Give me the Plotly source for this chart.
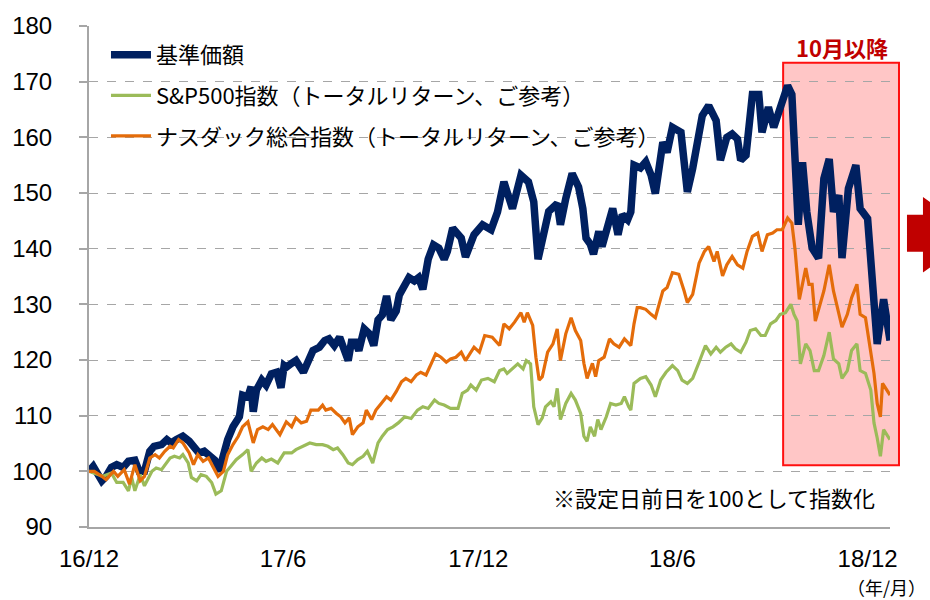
import pandas as pd
import plotly.graph_objects as go

# ---- data (days since 2016-12-01, index values) ----
start_date = "2016-12-01"

nav_days = [0, 4, 12, 16, 21, 26, 32, 37, 43, 47, 52, 57, 61, 68, 73, 77, 82, 88, 94, 99,
            103, 108, 113, 118, 122, 126, 130, 135, 141, 144, 149, 152, 154, 157, 162, 166, 171, 176, 180, 183,
            185, 190, 194, 201, 205, 210, 216, 221, 225, 230, 235, 239, 243, 246, 250, 253, 258, 263, 267, 271,
            275, 279, 283, 288, 291, 295, 300, 305, 309, 313, 318, 323, 328, 333, 336, 341, 346, 349, 353, 361,
            369, 377, 383, 389, 397, 405, 412, 417, 421, 425, 431, 439, 442, 447, 453, 459, 463, 466, 470, 473,
            478, 481, 486, 491, 496, 500, 505, 508, 511, 517, 522, 527, 531, 538, 542, 547, 555, 559, 561, 566,
            570, 575, 581, 588, 592, 598, 603, 608, 611, 616, 622, 628, 631, 637, 642, 647, 651, 655, 659, 662,
            665, 669, 673, 678, 684, 689, 694, 698, 703, 706, 712, 719, 723, 730, 734, 739, 745, 751]
nav_vals = [100.0, 100.9, 98.3, 99.1, 100.7, 101.2, 100.7, 101.8, 102.0, 100.0, 100.0, 103.6, 104.5, 104.8, 105.7, 105.1, 105.7, 106.3, 105.4, 103.9,
            103.3, 103.6, 102.7, 102.0, 100.0, 103.0, 105.7, 108.0, 109.8, 113.7, 113.4, 115.2, 110.7, 114.6, 116.4, 115.5, 117.5, 117.8, 115.0, 119.0,
            118.7, 119.4, 119.9, 117.8, 119.4, 121.7, 122.3, 123.5, 123.8, 122.6, 124.1, 121.7, 119.9, 123.2, 123.2, 121.7, 125.6, 124.7, 122.6, 127.2,
            128.1, 131.5, 127.2, 128.8, 131.7, 133.1, 134.8, 134.2, 134.8, 132.7, 138.1, 140.7, 140.1, 138.1, 139.5, 143.7, 142.8, 141.9, 138.5, 142.5,
            144.3, 143.4, 146.6, 152.0, 147.2, 153.2, 152.0, 148.4, 138.1, 141.3, 146.7, 148.1, 144.3, 149.0, 153.5, 151.1, 147.2, 141.9, 140.8, 139.0,
            143.1, 140.4, 144.0, 147.2, 142.5, 146.1, 145.2, 146.6, 155.0, 154.5, 155.6, 153.2, 149.9, 159.1, 157.3, 161.8, 160.9, 152.6, 150.2, 154.4,
            159.1, 163.9, 165.7, 163.0, 155.9, 160.0, 160.6, 159.7, 155.9, 156.8, 167.7, 167.7, 160.9, 165.4, 161.8, 164.8, 167.5, 169.3, 167.7, 158.0,
            144.3, 155.5, 146.6, 140.1, 138.3, 152.6, 156.1, 146.6, 149.6, 138.3, 150.8, 155.0, 147.2, 145.4, 136.5, 122.9, 130.9, 123.5]

sp_days = [0, 5, 13, 21, 26, 32, 37, 40, 43, 48, 52, 59, 63, 68, 73, 76, 80, 85, 88, 93,
           96, 101, 105, 110, 115, 119, 124, 129, 133, 138, 144, 149, 152, 157, 162, 166, 171, 177, 183, 190,
           194, 201, 207, 213, 219, 224, 229, 233, 238, 243, 247, 252, 257, 261, 266, 271, 275, 280, 285, 290,
           296, 302, 308, 313, 318, 324, 328, 333, 339, 346, 350, 355, 358, 363, 368, 374, 380, 385, 389, 392,
           397, 402, 407, 410, 414, 417, 421, 425, 428, 433, 436, 439, 442, 447, 452, 456, 461, 464, 467, 470,
           474, 477, 480, 485, 489, 494, 499, 502, 506, 508, 511, 513, 517, 522, 527, 531, 536, 541, 547, 552,
           556, 561, 566, 572, 578, 583, 588, 592, 597, 602, 606, 611, 616, 620, 625, 630, 634, 639, 644, 648,
           653, 658, 661, 664, 667, 672, 676, 680, 684, 689, 694, 698, 703, 706, 711, 715, 720, 723, 728, 733,
           736, 739, 742, 745, 748, 751]
sp_vals = [100.0, 99.7, 99.1, 99.7, 98.0, 98.0, 96.5, 98.9, 96.5, 99.4, 97.4, 100.0, 100.6, 100.3, 101.5, 102.4, 102.7, 102.4, 103.0, 101.5,
           98.9, 98.3, 99.4, 99.1, 98.0, 95.9, 96.5, 100.0, 100.9, 102.1, 103.0, 103.9, 100.0, 101.5, 102.4, 101.8, 102.2, 101.5, 103.3, 103.3,
           103.9, 104.5, 105.1, 104.8, 104.8, 104.5, 103.9, 104.2, 103.0, 101.5, 101.2, 102.1, 102.7, 103.6, 101.5, 105.1, 106.3, 107.5, 108.0, 108.7,
           109.8, 109.5, 111.0, 111.6, 111.3, 112.8, 112.2, 111.9, 111.3, 111.3, 114.0, 114.6, 115.5, 114.6, 116.4, 116.7, 116.1, 118.1, 118.4, 117.6,
           118.4, 119.3, 118.4, 119.9, 119.3, 111.6, 108.4, 109.6, 111.6, 112.5, 111.6, 114.9, 109.3, 112.2, 114.0, 112.8, 110.4, 106.3, 105.4, 108.0,
           106.3, 109.3, 107.5, 109.8, 112.2, 111.9, 112.2, 113.4, 111.6, 111.0, 115.8, 116.1, 116.7, 117.0, 115.5, 113.4, 116.4, 117.8, 119.0, 118.1,
           116.4, 115.8, 116.7, 119.6, 122.6, 121.1, 122.3, 121.4, 122.3, 122.9, 122.0, 121.4, 123.2, 125.3, 125.6, 124.4, 124.4, 126.5, 127.1, 128.2,
           128.5, 130.0, 128.2, 127.0, 119.3, 122.9, 121.7, 118.1, 118.1, 120.8, 125.0, 120.2, 119.3, 116.7, 118.1, 121.7, 122.9, 118.1, 117.6, 114.6,
           108.7, 106.0, 102.7, 107.5, 106.6, 105.7]

nq_days = [0, 5, 12, 16, 23, 27, 33, 38, 43, 48, 52, 57, 62, 66, 71, 76, 79, 84, 88, 94,
           98, 102, 107, 112, 116, 121, 126, 130, 135, 140, 144, 149, 154, 158, 163, 168, 172, 179, 185, 190,
           194, 199, 204, 208, 215, 219, 222, 227, 232, 236, 240, 244, 247, 252, 257, 260, 265, 269, 274, 279,
           283, 288, 293, 297, 302, 307, 311, 316, 321, 325, 330, 335, 339, 344, 349, 353, 361, 366, 371, 378,
           385, 389, 394, 399, 405, 408, 411, 416, 419, 422, 425, 430, 435, 439, 442, 447, 452, 456, 461, 464,
           467, 472, 475, 478, 483, 488, 492, 497, 502, 508, 511, 514, 517, 522, 527, 531, 538, 542, 547, 553,
           558, 561, 566, 572, 577, 581, 586, 589, 594, 598, 603, 608, 613, 617, 622, 627, 631, 636, 641, 645,
           650, 655, 659, 662, 666, 669, 672, 675, 678, 681, 686, 689, 694, 698, 701, 706, 711, 715, 720, 723,
           728, 731, 736, 739, 742, 744, 748, 751]
nq_vals = [100.0, 100.0, 99.1, 98.5, 100.0, 99.1, 100.3, 97.7, 101.2, 98.3, 99.1, 102.4, 103.0, 102.4, 103.6, 104.5, 104.2, 105.7, 105.1, 103.3,
           101.2, 103.0, 101.8, 102.4, 100.9, 99.1, 100.0, 103.0, 104.8, 106.3, 108.0, 108.9, 105.1, 107.5, 108.0, 107.5, 108.4, 106.6, 108.9, 108.0,
           109.6, 108.7, 109.0, 111.0, 111.0, 111.9, 111.0, 111.3, 110.4, 109.8, 108.7, 109.6, 106.6, 108.0, 108.7, 111.0, 109.3, 111.0, 112.2, 113.4,
           112.8, 114.3, 116.1, 116.7, 116.1, 117.3, 117.8, 117.3, 119.4, 121.1, 120.5, 119.6, 120.2, 120.5, 121.4, 119.9, 122.3, 121.4, 124.4, 124.1,
           122.6, 126.5, 125.6, 126.8, 128.5, 126.8, 128.5, 126.2, 120.5, 116.4, 117.0, 121.4, 122.9, 125.6, 119.9, 124.7, 127.6, 125.3, 123.5, 119.4,
           116.7, 119.4, 117.0, 119.9, 120.5, 123.8, 122.9, 122.3, 123.8, 122.6, 126.5, 129.4, 129.4, 129.1, 128.2, 127.6, 132.4, 133.0, 135.7, 135.4,
           132.4, 130.3, 131.8, 137.4, 139.5, 140.4, 137.7, 139.5, 135.1, 137.1, 138.6, 137.1, 136.5, 139.5, 142.2, 142.8, 139.5, 142.5, 142.8, 143.4,
           143.4, 145.5, 144.6, 139.8, 130.9, 133.6, 136.5, 133.6, 133.6, 127.0, 130.6, 132.4, 137.1, 132.4, 130.0, 125.9, 128.2, 131.2, 133.6, 128.2,
           127.6, 123.5, 117.6, 112.2, 109.8, 115.8, 114.6, 113.7]

tick_dates = ["2016-12-01", "2017-06-01", "2017-12-01", "2018-06-01", "2018-12-01"]
tick_text = ["16/12", "17/6", "17/12", "18/6", "18/12"]

names = ["基準価額", "S&P500指数（トータルリターン、ご参考）", "ナスダック総合指数（トータルリターン、ご参考）"]
colors = ["#002060", "#9BBB59", "#E46C0A"]

JP = "Noto Sans CJK JP"
LAT = "Liberation Sans"


def to_dates(days):
    return pd.Timestamp(start_date) + pd.to_timedelta(days, unit="D")


fig = go.Figure()
series = [(nav_days, nav_vals, 7.5), (sp_days, sp_vals, 3.2), (nq_days, nq_vals, 3.2)]
for i, (d, v, w) in enumerate(series):
    fig.add_trace(go.Scatter(
        x=to_dates(d), y=v, mode="lines", name=names[i], legendgroup=f"g{i}",
        line=dict(color=colors[i], width=w), hoverinfo="skip"))

# plot-area pixel geometry helpers (paper coords)
L, R, T, B = 88, 40, 23, 73
W, H = 930, 600
pw, ph = W - L - R, H - T - B


def px(x):
    return (x - L) / pw


def py(y):
    return (H - B - y) / ph


shapes = [
    dict(type="rect", xref="paper", yref="paper", x0=px(783), x1=px(899), y0=py(465), y1=py(60),
         fillcolor="#FFC6C6", line=dict(color="#FF1010", width=2), layer="below"),
    dict(type="path", xref="paper", yref="paper",
         path=(f"M{px(907)},{py(213)} L{px(923)},{py(213)} L{px(923)},{py(195)} "
               f"L{px(975)},{py(233)} L{px(923)},{py(271)} L{px(923)},{py(250)} "
               f"L{px(907)},{py(250)} Z"),
         fillcolor="#C00000", line=dict(width=0), layer="above"),
]

annotations = [
    dict(text="10月以降", xref="paper", yref="paper", x=px(842), y=py(44), showarrow=False,
         font=dict(family=JP, size=22, color="#C00000", weight="bold"), xanchor="center", yanchor="middle"),
    dict(text="※設定日前日を100として指数化", xref="paper", yref="paper", x=px(877), y=py(497),
         showarrow=False, font=dict(family=JP, size=22, color="#000000"), xanchor="right", yanchor="middle"),
    dict(text="（年/月）", xref="paper", yref="paper", x=px(928), y=py(587), showarrow=False,
         font=dict(family=JP, size=18, color="#000000"), xanchor="right", yanchor="middle"),
]

fig.update_layout(
    width=W, height=H,
    margin=dict(l=L, r=R, t=T, b=B),
    paper_bgcolor="white", plot_bgcolor="white",
    showlegend=True,
    legend=dict(x=px(105), y=py(31), xanchor="left", yanchor="top", bgcolor="rgba(0,0,0,0)",
                font=dict(family=JP, size=22, color="#000000"), tracegroupgap=9,
                traceorder="grouped", itemwidth=40),
    shapes=shapes, annotations=annotations,
    xaxis=dict(type="date", range=["2016-12-01", "2018-12-22"], tickvals=tick_dates, ticktext=tick_text,
               showgrid=False, showline=True, linecolor="#A6A6A6", linewidth=2, ticks="",
               tickfont=dict(family=LAT, size=24, color="#000000"), ticklabelstandoff=9, zeroline=False),
    yaxis=dict(range=[90, 180], dtick=10, tick0=90, showgrid=True, gridcolor="#A6A6A6", griddash="dash",
               gridwidth=1.3, showline=True, linecolor="#A6A6A6", linewidth=2, ticks="outside", ticklen=8,
               tickcolor="#A6A6A6", tickwidth=1.5, tickfont=dict(family=LAT, size=24, color="#000000"),
               ticklabelstandoff=22, zeroline=False),
)

fig.write_html("out.html", config={"displayModeBar": False},
               post_script="document.body.style.margin='0';")
